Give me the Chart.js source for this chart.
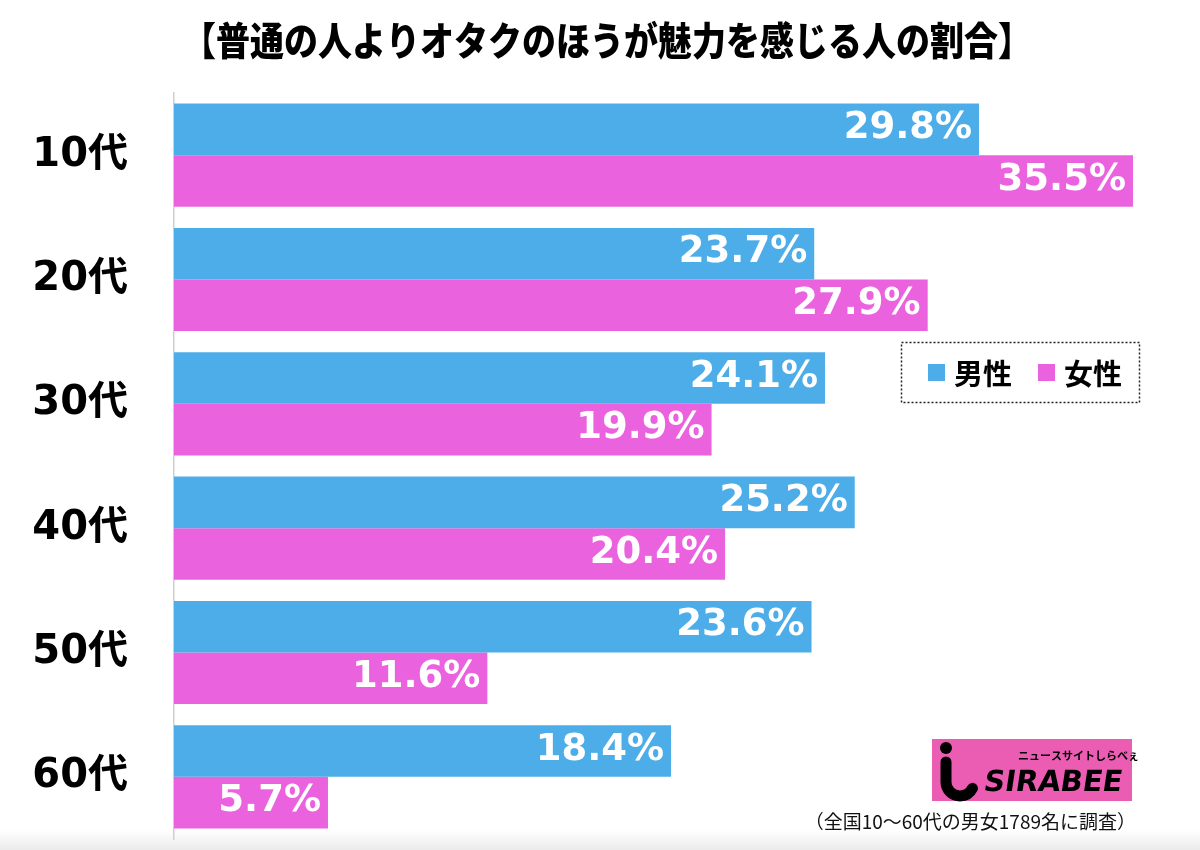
<!DOCTYPE html>
<html>
<head>
<meta charset="utf-8">
<script src="https://cdn.jsdelivr.net/npm/chart.js@4/dist/chart.umd.min.js"></script>
<style>
  body { margin: 0; background: #fff; }
</style>
</head>
<body>
<canvas id="myChart" width="1200" height="850"></canvas>
<script>
// ------------- data ----------------
const ages = ["10代", "20代", "30代", "40代", "50代", "60代"];
const male = [29.8, 23.7, 24.1, 25.2, 23.6, 18.4];
const female = [35.5, 27.9, 19.9, 20.4, 11.6, 5.7];
const seriesNames = ["男性", "女性"];
const chartTitle = "【普通の人よりオタクのほうが魅力を感じる人の割合】";
const footNote = "（全国10〜60代の男女1789名に調査）";

const BLUE = "#4DADE8";
const PINK = "#EA62DE";

// value labels inside the bar ends
const valueLabels = {
  id: "valueLabels",
  afterDatasetsDraw(chart) {
    const ctx = chart.ctx;
    ctx.save();
    ctx.font = "bold 37px 'DejaVu Sans'";
    ctx.fillStyle = "#fff";
    ctx.textAlign = "right";
    ctx.textBaseline = "middle";
    chart.data.datasets.forEach((ds, i) => {
      chart.getDatasetMeta(i).data.forEach((el, j) => {
        ctx.fillText(ds.data[j].toFixed(1) + "%", el.x - 7, el.y - 1);
      });
    });
    ctx.restore();
  },
};

// title, legend box, logo and footnote
const decorations = {
  id: "decorations",
  beforeDraw(chart) {
    const ctx = chart.ctx;
    ctx.save();
    const g = ctx.createLinearGradient(0, 830, 0, 850);
    g.addColorStop(0, "#ffffff");
    g.addColorStop(1, "#ebebeb");
    ctx.fillStyle = g;
    ctx.fillRect(0, 830, 1200, 20);
    ctx.restore();
  },
  afterDraw(chart) {
    const ctx = chart.ctx;
    ctx.save();

    // title
    ctx.fillStyle = "#000";
    ctx.textAlign = "center";
    ctx.textBaseline = "middle";
    ctx.font = "900 34px 'Noto Sans CJK JP'";
    ctx.save();
    ctx.translate(607, 40);
    ctx.scale(1, 1.15);
    ctx.fillText(chartTitle, 0, 0);
    ctx.restore();

    // legend
    ctx.strokeStyle = "#222";
    ctx.lineWidth = 1.5;
    ctx.setLineDash([2, 2]);
    ctx.strokeRect(901.5, 342.5, 238, 60);
    ctx.setLineDash([]);
    const items = [
      { x: 928, color: BLUE, text: seriesNames[0] },
      { x: 1038, color: PINK, text: seriesNames[1] },
    ];
    ctx.font = "bold 29px 'Noto Sans CJK JP'";
    ctx.textAlign = "left";
    items.forEach((it) => {
      ctx.fillStyle = it.color;
      ctx.fillRect(it.x, 364, 17, 17);
      ctx.fillStyle = "#000";
      ctx.fillText(it.text, it.x + 26, 374);
    });

    // logo
    ctx.fillStyle = "#EB5DB3";
    ctx.fillRect(932, 739, 200, 62);
    ctx.fillStyle = "#000";
    ctx.beginPath();
    ctx.arc(946, 748, 6, 0, Math.PI * 2);
    ctx.fill();
    ctx.lineWidth = 11;
    ctx.strokeStyle = "#000";
    ctx.lineCap = "round";
    ctx.beginPath();
    ctx.moveTo(946, 762);
    ctx.lineTo(946, 780);
    ctx.arc(960, 782, 14, Math.PI, Math.PI * 0.15, true);
    ctx.stroke();
    ctx.font = "bold 11px 'Noto Sans CJK JP'";
    ctx.textAlign = "left";
    ctx.fillText("ニュースサイトしらべぇ", 1018, 756);
    ctx.save();
    ctx.translate(984, 783);
    ctx.transform(1, 0, -0.15, 1, 0, 0);
    ctx.font = "900 29px 'DejaVu Sans'";
    ctx.fillText("SIRABEE", 0, 0);
    ctx.restore();

    // footnote
    ctx.font = "19px 'Noto Sans CJK JP'";
    ctx.textAlign = "right";
    ctx.fillStyle = "#111";
    ctx.fillText(footNote, 1136, 822);

    ctx.restore();
  },
};

document.addEventListener("DOMContentLoaded", () => {
  const ctx = document.getElementById("myChart");
  new Chart(ctx, {
    type: "bar",
    data: {
      labels: ages,
      datasets: [
        {
          label: seriesNames[0],
          data: male,
          backgroundColor: BLUE,
          categoryPercentage: 0.83,
          barPercentage: 1.0,
        },
        {
          label: seriesNames[1],
          data: female,
          backgroundColor: PINK,
          categoryPercentage: 0.83,
          barPercentage: 1.0,
        },
      ],
    },
    options: {
      indexAxis: "y",
      responsive: false,
      animation: false,
      devicePixelRatio: 1,
      layout: {
        padding: { top: 93, right: 40, bottom: 11, left: 0 },
      },
      scales: {
        x: {
          display: false,
          min: 0,
          max: 36.5,
        },
        y: {
          grid: { display: false, drawTicks: false },
          border: { display: true, color: "#cfcfcf", width: 1.5 },
          ticks: {
            color: "#000",
            padding: 46,
            font: { family: "'DejaVu Sans', 'Noto Sans CJK JP'", size: 40, weight: "bold" },
          },
          afterFit(scale) {
            scale.width = 174;
            scale.paddingTop = 0;
            scale.paddingBottom = 0;
          },
        },
      },
      plugins: {
        legend: { display: false },
        title: { display: false },
        tooltip: { enabled: false },
      },
    },
    plugins: [valueLabels, decorations],
  });
});
</script>
</body>
</html>
